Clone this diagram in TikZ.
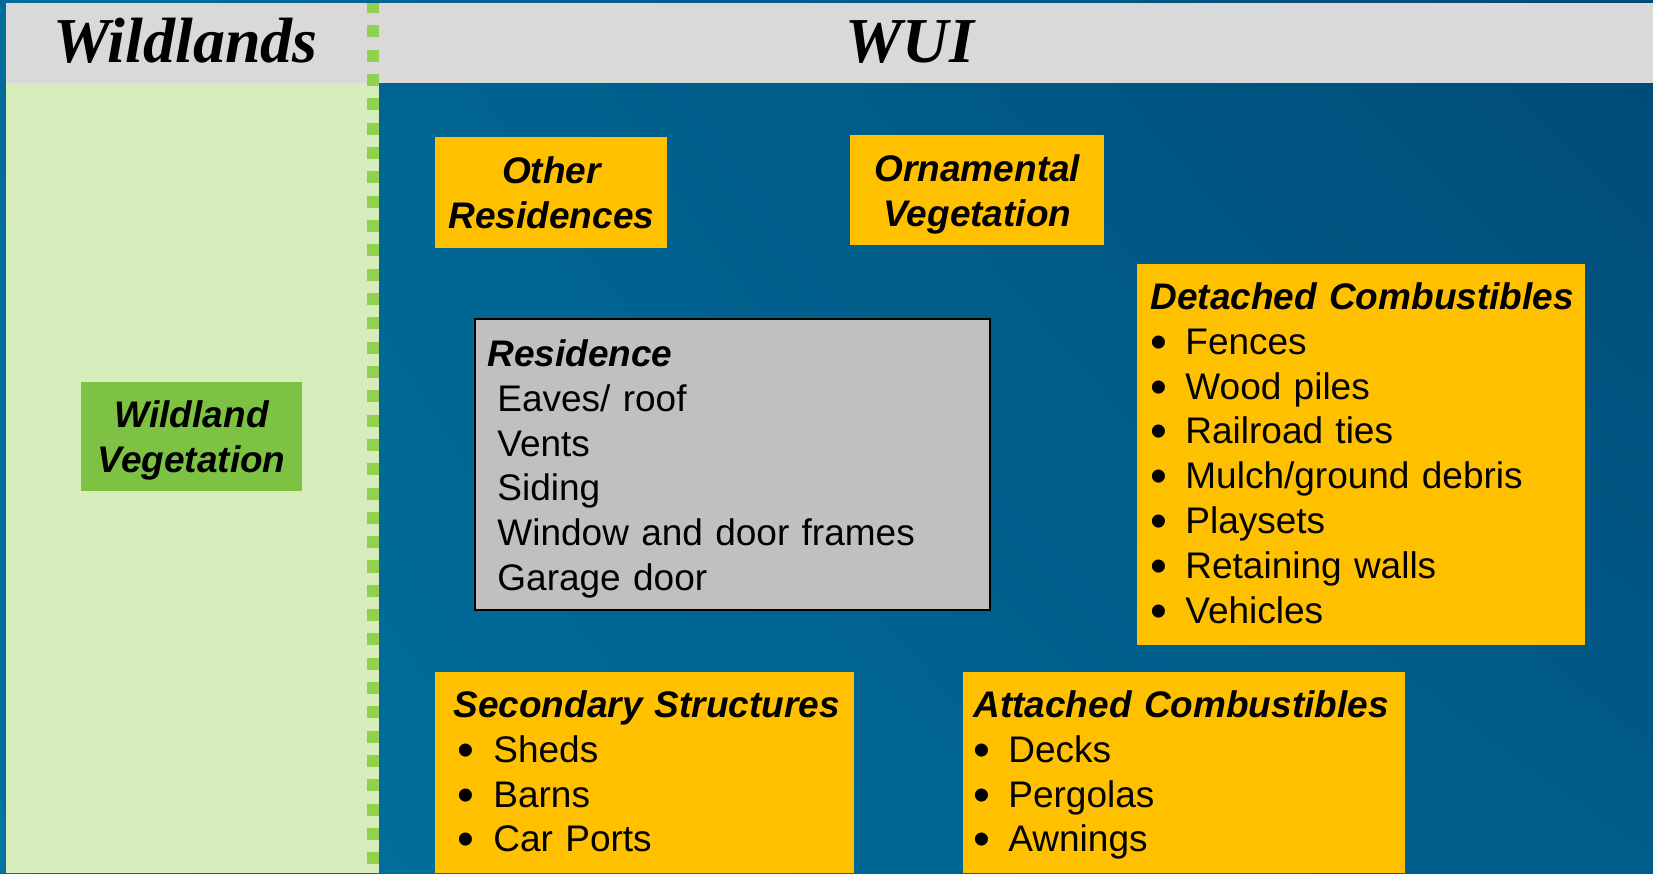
\documentclass[tikz,border=0pt]{standalone}
\usepackage{graphicx}
\usepackage{fontspec}
\setmainfont{Liberation Serif}
\setsansfont{Liberation Sans}
\usetikzlibrary{shadings}
\definecolor{wuiSeaUL}{HTML}{006C98}
\definecolor{wuiSeaUR}{HTML}{004A77}
\definecolor{wuiSeaLL}{HTML}{0072A0}
\definecolor{wuiSeaLR}{HTML}{005C88}
\definecolor{wuiGray}{HTML}{D9D9D9}
\definecolor{wuiPale}{HTML}{D6EDBB}
\definecolor{wuiDot}{HTML}{92D050}
\definecolor{wuiLeaf}{HTML}{7DC242}
\definecolor{wuiYellow}{HTML}{FFC000}
\definecolor{wuiSilver}{HTML}{C0C0C0}
\tikzset{
  wui title/.style={font=\fontsize{32}{38}\selectfont\bfseries\itshape, anchor=base, inner sep=0pt},
  wui tag/.style={fill=wuiYellow, inner sep=0pt, anchor=north west, align=center, text depth=0pt, font=\sffamily\fontsize{18.5}{22.4}\selectfont\bfseries\itshape},
  wui panel/.style={fill=wuiYellow, inner sep=0pt, anchor=north west},
  wui list/.style={anchor=base west, inner sep=0pt, text width=215pt, align=left, font=\sffamily\fontsize{18.5}{22.4}\selectfont},
  wui dots/.style={draw=wuiDot, line width=6.15pt, dash pattern=on 6pt off 6.165pt, dash phase=1.05pt},
}
\newcommand{\wuibul}[1][17.5pt]{\makebox[#1][l]{\raisebox{-2pt}{\scalebox{1.3}{\textbullet}}}}
\newcommand{\wuihead}[1]{\textbf{\textit{#1}}}

\begin{document}
\begin{tikzpicture}[x=0.5pt, y=-0.5pt]
  \useasboundingbox (0,0) rectangle (1653,873);
  % Sea-blue backdrop, header band and the wildland strip
  \shade[upper left=wuiSeaUL, upper right=wuiSeaUR, lower left=wuiSeaLL, lower right=wuiSeaLR] (0,0) rectangle (1653,873);
  \fill[wuiGray] (6,3) rectangle (1653,83);
  \fill[wuiPale] (6,83) rectangle (379,873);
  % Dotted border between the two zones
  \draw[wui dots] (373,3) -- (373,873);
  \node[wui title] (wildlands) at (185.5,62) {Wildlands};
  \node[wui title] (wui) at (910,62) {WUI};

  \node[wui tag, fill=wuiLeaf, minimum width=110.25pt, minimum height=54.5pt] (wildveg) at (81,381.5) {Wildland\\Vegetation};
  \node[wui tag, minimum width=116pt, minimum height=55.5pt] (otherres) at (435,137) {Other\\Residences};
  \node[wui tag, minimum width=127pt, minimum height=55pt] (ornveg) at (850,135) {Ornamental\\Vegetation};

  % Residence itself
  \node[wui panel, fill=wuiSilver, draw=black, line width=0.75pt, minimum width=257.5pt, minimum height=145.5pt] (residence) at (474,318) {};
  \node[wui list] (residencetext) at ([shift={(13,48.5)}]residence.north west)
    {\wuihead{Residence}\\\hspace*{5pt}Eaves/ roof\\\hspace*{5pt}Vents\\\hspace*{5pt}Siding\\\hspace*{5pt}Window and door frames\\\hspace*{5pt}Garage door};

  \node[wui panel, minimum width=224pt, minimum height=190.5pt] (detached) at (1136.5,263.5) {};
  \node[wui list] (detachedtext) at ([shift={(13.5,46)}]detached.north west)
    {\wuihead{Detached Combustibles}\\\wuibul Fences\\\wuibul Wood piles\\\wuibul Railroad ties\\\wuibul Mulch/ground debris\\\wuibul Playsets\\\wuibul Retaining walls\\\wuibul Vehicles};

  \node[wui panel, minimum width=209.5pt, minimum height=100.5pt] (secondary) at (435,672) {};
  \node[wui list] (secondarytext) at ([shift={(18,45.5)}]secondary.north west)
    {\wuihead{Secondary Structures}\\\hspace*{2pt}\wuibul[18pt]Sheds\\\hspace*{2pt}\wuibul[18pt]Barns\\\hspace*{2pt}\wuibul[18pt]Car Ports};

  \node[wui panel, minimum width=221pt, minimum height=100.5pt] (attached) at (962.5,672) {};
  \node[wui list] (attachedtext) at ([shift={(10.5,45.5)}]attached.north west)
    {\wuihead{Attached Combustibles}\\\wuibul Decks\\\wuibul Pergolas\\\wuibul Awnings};
\end{tikzpicture}
\end{document}
